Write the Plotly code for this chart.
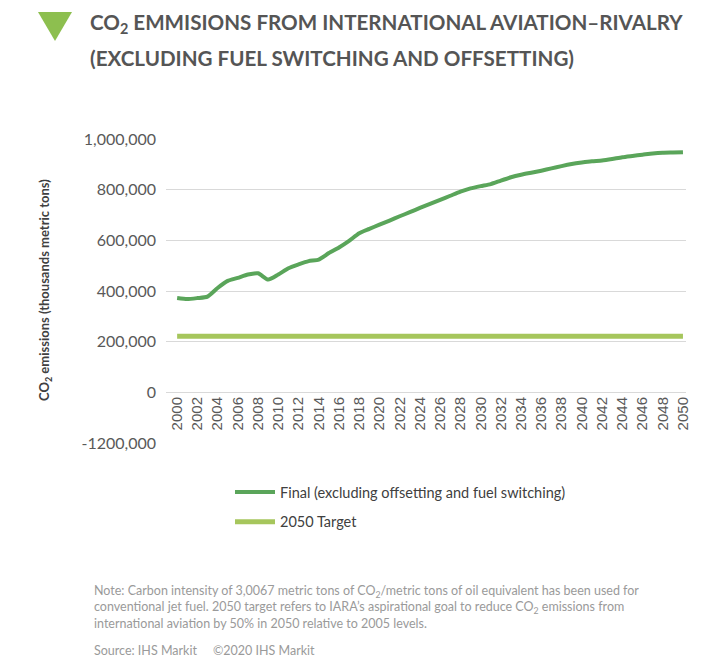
import plotly.graph_objects as go

years = list(range(2000, 2051))
final_vals = [372000, 368000, 372000, 378000, 412000, 440000, 452000, 465000, 470000, 445000,
              465000, 490000, 505000, 518000, 524000, 550000, 572000, 598000, 628000, 645000,
              662000, 678000, 695000, 711000, 728000, 744000, 760000, 776000, 792000, 805000,
              814000, 822000, 836000, 849000, 859000, 867000, 875000, 884000, 893000, 901000,
              907000, 912000, 915000, 921000, 928000, 933000, 938000, 943000, 946000, 947000, 948000]
target_vals = [221000] * len(years)

y_tickvals = [-200000, 0, 200000, 400000, 600000, 800000, 1000000]
y_ticktext = ["-1200,000", "0", "200,000", "400,000", "600,000", "800,000", "1,000,000"]
x_tickvals = list(range(2000, 2051, 2))

W, H = 710, 664
L, R, T, B = 166, 686, 139, 443


def px(x):
    return (x - L) / (R - L)


def py(y):
    return (B - y) / (B - T)


FONT = "Lato, sans-serif"

fig = go.Figure()
fig.add_trace(go.Scatter(x=years, y=final_vals, mode="lines",
                         name="Final (excluding offsetting and fuel switching)",
                         line=dict(color="#5aa55a", width=4, shape="spline", smoothing=0.6),
                         legendgroup="a"))
fig.add_trace(go.Scatter(x=years, y=target_vals, mode="lines", name="2050 Target",
                         line=dict(color="#a6c65c", width=5), legendgroup="b"))

fig.update_layout(
    width=W, height=H,
    margin=dict(l=L, r=W - R, t=T, b=H - B, autoexpand=False),
    paper_bgcolor="white", plot_bgcolor="white",
    font=dict(family=FONT, color="#595959"),
    showlegend=True,
    legend=dict(x=px(230), y=py(476), xanchor="left", yanchor="top",
                font=dict(size=14.5, color="#404040", family=FONT),
                tracegroupgap=8, itemwidth=40),
    xaxis=dict(range=[1998.9, 2050.3], tickvals=x_tickvals, tickangle=-90,
               anchor="free", position=py(393), showgrid=False, zeroline=False,
               showline=False, ticks="", automargin=False,
               tickfont=dict(size=15, color="#595959", family="Liberation Sans, sans-serif")),
    yaxis=dict(range=[-200000, 1000000], tickvals=y_tickvals, ticktext=y_ticktext,
               showgrid=True, gridcolor="#d9d9d9", gridwidth=1, zeroline=False,
               showline=False, ticks="", ticklabelstandoff=9, automargin=False,
               tickfont=dict(size=16, color="#595959", family=FONT)),
)

# title triangle
fig.add_shape(type="path", xref="paper", yref="paper",
              path=f"M {px(38)} {py(12)} L {px(72)} {py(12)} L {px(55)} {py(41)} Z",
              fillcolor="#8dbf4f", line=dict(width=0))

fig.add_annotation(xref="paper", yref="paper", x=px(88), y=py(23), xanchor="left", yanchor="middle",
                   align="left", showarrow=False,
                   text="<b>CO<sub>2</sub> EMMISIONS FROM INTERNATIONAL AVIATION–RIVALRY</b>",
                   font=dict(size=20.6, color="#555555", family=FONT))
fig.add_annotation(xref="paper", yref="paper", x=px(88), y=py(58), xanchor="left", yanchor="middle",
                   align="left", showarrow=False,
                   text="<b>(EXCLUDING FUEL SWITCHING AND OFFSETTING)</b>",
                   font=dict(size=20.6, color="#555555", family=FONT))

fig.add_annotation(xref="paper", yref="paper", x=px(45), y=py(290), xanchor="center", yanchor="middle",
                   textangle=-90, showarrow=False,
                   text="<b>CO<sub>2</sub> emissions (thousands metric tons)</b>",
                   font=dict(size=13, color="#404040", family=FONT))

fig.add_annotation(xref="paper", yref="paper", x=px(92), y=py(581), xanchor="left", yanchor="top",
                   align="left", showarrow=False,
                   text="Note: Carbon intensity of 3,0067 metric tons of CO<sub>2</sub>/metric tons of oil equivalent has been used for<br>"
                        "conventional jet fuel. 2050 target refers to IARA’s aspirational goal to reduce CO<sub>2</sub> emissions from<br>"
                        "international aviation by 50% in 2050 relative to 2005 levels.",
                   font=dict(size=12.5, color="#9a9a9a", family=FONT))

fig.add_annotation(xref="paper", yref="paper", x=px(92), y=py(641), xanchor="left", yanchor="top",
                   align="left", showarrow=False,
                   text="Source: IHS Markit     ©2020 IHS Markit",
                   font=dict(size=12.5, color="#9a9a9a", family=FONT))

fig.write_html("out.html", post_script="document.body.style.margin='0';",
               config={"displayModeBar": False})
